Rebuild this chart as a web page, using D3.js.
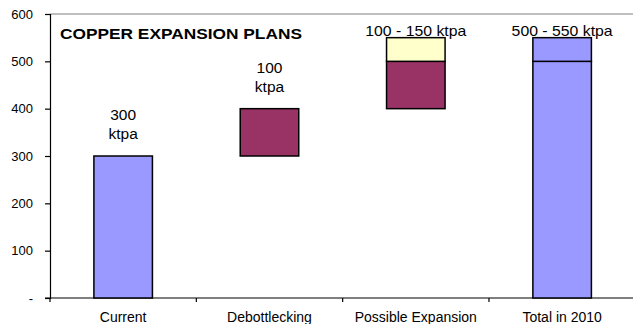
<!DOCTYPE html>
<html>
<head>
<meta charset="utf-8">
<script src="https://cdn.jsdelivr.net/npm/d3@7"></script>
<style>
  html, body { margin: 0; padding: 0; background: #fff; overflow: hidden; }
  svg { display: block; font-family: Arial, "Liberation Sans", sans-serif; }
</style>
</head>
<body>
<svg id="chart" width="633" height="324"></svg>
<script>
// Copper expansion plans, in ktpa
const categories = ["Current", "Debottlecking", "Possible Expansion", "Total in 2010"];
const baseValues = [0, 300, 400, 0];          // invisible floor of each floating bar
const firstSegment = [300, 100, 100, 500];    // committed capacity
const secondSegment = [0, 0, 50, 50];         // upper range of the estimate
const valueLabels = [["300", "ktpa"], ["100", "ktpa"], ["100 - 150 ktpa"], ["500 - 550 ktpa"]];
const yTicks = [0, 100, 200, 300, 400, 500, 600];

const blue = "#9999ff", maroon = "#993366", cream = "#ffffcc";
const firstFill = [blue, maroon, maroon, blue];
const secondFill = [blue, blue, cream, blue];

const svg = d3.select("#chart");
const plot = { left: 50, right: 635.3, top: 14, bottom: 298 };

const x = d3.scaleBand().domain(categories).range([plot.left, plot.right]).padding(0);
const y = d3.scaleLinear().domain([0, 600]).range([plot.bottom, plot.top]);
const barW = x.bandwidth() * 0.4;
const barX = c => x(c) + (x.bandwidth() - barW) / 2;

// plot frame (top edge in grey)
svg.append("line")
  .attr("x1", plot.left).attr("x2", 633)
  .attr("y1", plot.top).attr("y2", plot.top)
  .attr("stroke", "#808080").attr("stroke-width", 1.2);

// y axis
const yAxis = svg.append("g")
  .attr("transform", `translate(${plot.left},0)`)
  .call(d3.axisLeft(y).tickValues(yTicks).tickSize(5).tickPadding(12)
    .tickFormat(d => d === 0 ? "-" : d));
yAxis.select(".domain").attr("stroke", "#000").attr("stroke-width", 1.2);
yAxis.selectAll(".tick line").attr("stroke", "#000").attr("stroke-width", 1.2);
yAxis.selectAll(".tick text")
  .attr("font-size", 13).attr("fill", "#000")
  .attr("font-family", "Arial, 'Liberation Sans', sans-serif");

// x axis with ticks at the category boundaries
const boundaries = categories.map(c => x(c));
const xAxis = svg.append("g");
xAxis.append("line")
  .attr("x1", plot.left - 5).attr("x2", 633)
  .attr("y1", plot.bottom).attr("y2", plot.bottom)
  .attr("stroke", "#000").attr("stroke-width", 1.2);
xAxis.selectAll("line.tick").data(boundaries).join("line")
  .attr("class", "tick")
  .attr("x1", d => d).attr("x2", d => d)
  .attr("y1", plot.bottom).attr("y2", plot.bottom + 4)
  .attr("stroke", "#000").attr("stroke-width", 1.2);
xAxis.selectAll("text").data(categories).join("text")
  .attr("x", c => x(c) + x.bandwidth() / 2)
  .attr("y", 322)
  .attr("text-anchor", "middle")
  .attr("font-size", 14)
  .attr("fill", "#000")
  .text(c => c);

// floating bars: first segment then the upper range
const bars = svg.append("g");
categories.forEach((c, i) => {
  const lo = baseValues[i], mid = lo + firstSegment[i], hi = mid + secondSegment[i];
  bars.append("rect")
    .attr("x", barX(c)).attr("width", barW)
    .attr("y", y(mid)).attr("height", y(lo) - y(mid))
    .attr("fill", firstFill[i]).attr("stroke", "#000").attr("stroke-width", 1.5);
  if (secondSegment[i] > 0) {
    bars.append("rect")
      .attr("x", barX(c)).attr("width", barW)
      .attr("y", y(hi)).attr("height", y(mid) - y(hi))
      .attr("fill", secondFill[i]).attr("stroke", "#000").attr("stroke-width", 1.5);
  }
});

// value labels above each bar
categories.forEach((c, i) => {
  const top = baseValues[i] + firstSegment[i] + secondSegment[i];
  const lines = valueLabels[i];
  const cx = x(c) + x.bandwidth() / 2;
  if (lines.length > 1) {
    const t = svg.append("text")
      .attr("text-anchor", "middle")
      .attr("font-size", 15.5)
      .attr("fill", "#000");
    lines.forEach((s, k) => {
      t.append("tspan")
        .attr("x", cx)
        .attr("y", y(top) - 17 - (lines.length - 1 - k) * 19)
        .text(s);
    });
  } else {
    svg.append("g")
      .attr("transform", `translate(${cx},${y(top) - 2}) scale(1.13,1)`)
      .append("text")
      .attr("text-anchor", "middle")
      .attr("font-size", 14)
      .attr("fill", "#000")
      .text(lines[0]);
  }
});

// chart title inside the plot
svg.append("g")
  .attr("transform", "translate(60,39) scale(1.17,1)")
  .append("text")
  .attr("font-size", 14.8).attr("font-weight", "bold")
  .attr("fill", "#000")
  .text("COPPER EXPANSION PLANS");
</script>
</body>
</html>
